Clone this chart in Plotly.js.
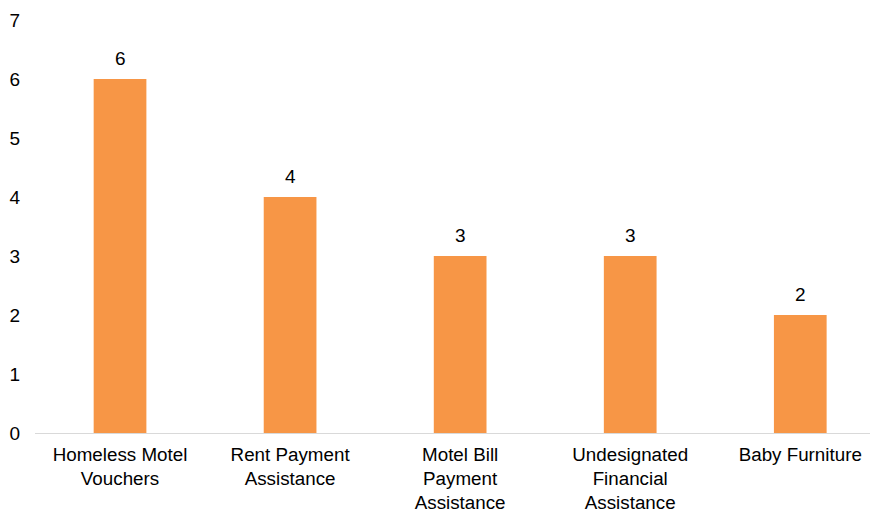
<!DOCTYPE html>
<html>
<head>
<meta charset="utf-8">
<script src="https://cdn.plot.ly/plotly-3.0.1.min.js"></script>
<style>html,body{margin:0;padding:0;background:#fff;}#chart{width:870px;height:516px;}</style>
</head>
<body>
<div id="chart"></div>
<script>
const categories = ["Homeless Motel<br>Vouchers", "Rent Payment<br>Assistance", "Motel Bill<br>Payment<br>Assistance", "Undesignated<br>Financial<br>Assistance", "Baby Furniture"];
const values = [6, 4, 3, 3, 2];
const yTicks = [0, 1, 2, 3, 4, 5, 6, 7];

const font = {family: "Liberation Sans, Arial, sans-serif", size: 19, color: "#000000"};

const trace = {
  type: "bar",
  x: [0, 1, 2, 3, 4],
  y: values,
  width: 0.31,
  marker: {color: "#F79646", line: {width: 0}},
  hoverinfo: "none"
};

const annotations = values.map((v, i) => ({
  x: i, y: v, xref: "x", yref: "y",
  text: String(v), showarrow: false,
  yanchor: "bottom", yshift: 8,
  font: {family: font.family, size: 19, color: "#000000"}
}));

const layout = {
  width: 870, height: 516,
  margin: {l: 35, r: 0, t: 20, b: 83},
  paper_bgcolor: "#ffffff", plot_bgcolor: "#ffffff",
  showlegend: false,
  font: font,
  xaxis: {
    range: [-0.5, 4.41],
    tickmode: "array",
    tickvals: [0, 1, 2, 3, 4],
    ticktext: categories,
    showgrid: false, zeroline: false,
    showline: true, linecolor: "#D9D9D9", linewidth: 1,
    ticks: "", ticklabelstandoff: 4,
    tickfont: {family: font.family, size: 18.8, color: "#000000"},
    fixedrange: true
  },
  yaxis: {
    range: [0, 7],
    tickmode: "array",
    tickvals: yTicks,
    ticktext: yTicks.map(String),
    showgrid: false, zeroline: false, showline: false,
    ticks: "", ticklabelstandoff: 14,
    tickfont: {family: font.family, size: 19, color: "#000000"},
    fixedrange: true
  },
  annotations: annotations
};

Plotly.newPlot("chart", [trace], layout, {displayModeBar: false, staticPlot: true});
</script>
</body>
</html>
